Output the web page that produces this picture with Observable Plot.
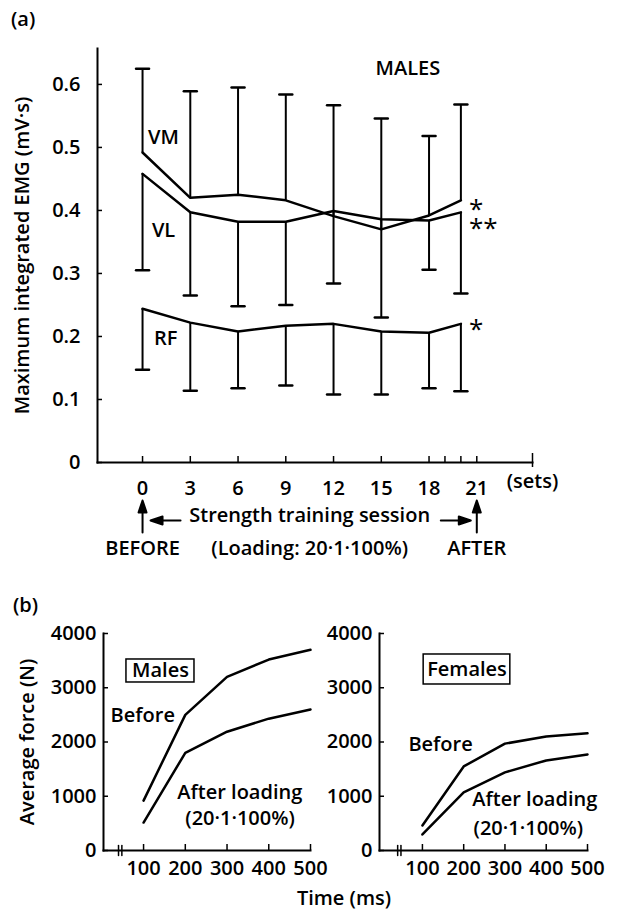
<!DOCTYPE html>
<html><head><meta charset="utf-8">
<script src="https://cdn.jsdelivr.net/npm/d3@7"></script>
<script src="https://cdn.jsdelivr.net/npm/@observablehq/plot@0.6"></script>
<style>
body{margin:0;background:#fff;}
#wrap{position:relative;width:618px;height:911px;font-family:"Open Sans",sans-serif;color:#000;background:#fff;}
#wrap svg{position:absolute;}
.lbl{position:absolute;font-size:20px;font-weight:600;line-height:20px;white-space:nowrap;}
</style></head><body><div id="wrap">
<div class="lbl" style="left:11px;top:9px;">(a)</div>
<div class="lbl" style="left:13px;top:595px;">(b)</div>
<div class="lbl" style="left:244px;width:200px;text-align:center;top:888px;">Time (ms)</div>
</div>
<script>
// ---- Panel (a): maximum integrated EMG, males ----
const sets = [0, 3, 6, 9, 12, 15, 18, 20];
const vmMean  = [0.492, 0.420, 0.425, 0.416, 0.391, 0.370, 0.392, 0.416];
const vmUpper = [0.625, 0.589, 0.595, 0.584, 0.567, 0.546, 0.518, 0.568];
const vlMean  = [0.458, 0.397, 0.382, 0.382, 0.399, 0.386, 0.384, 0.397];
const vlLower = [0.305, 0.265, 0.248, 0.250, 0.284, 0.230, 0.306, 0.268];
const rfMean  = [0.244, 0.222, 0.208, 0.217, 0.220, 0.208, 0.206, 0.220];
const rfLower = [0.147, 0.114, 0.118, 0.122, 0.108, 0.108, 0.118, 0.113];
const setTicks = [0, 3, 6, 9, 12, 15, 18, 21];
const setMinorTicks = [19, 20];
const emgTicks = [0, 0.1, 0.2, 0.3, 0.4, 0.5, 0.6];

// ---- Panel (b): average force ----
const timeMs = [100, 200, 300, 400, 500];
const maleBefore   = [920, 2500, 3200, 3520, 3700];
const maleAfter    = [515, 1800, 2190, 2430, 2600];
const femaleBefore = [460, 1550, 1970, 2100, 2160];
const femaleAfter  = [295, 1070, 1440, 1660, 1770];
const forceTicks = [0, 1000, 2000, 3000, 4000];
const axisBreak = [40, 48];

const FONT = 'font-family:"Open Sans",sans-serif;font-size:20px;font-weight:600;color:#000;background:transparent;overflow:visible;';
const cap = {draw(c, l) { c.moveTo(0, 0); c.lineTo(0, -l); }};
const arrowHead = {draw(c, l) { c.moveTo(0, 0); c.lineTo(0, -l + 8); c.moveTo(0, -l); c.lineTo(-4, -l + 12); c.lineTo(4, -l + 12); c.closePath(); }};

const emg = sets.map((s, i) => ({set: s, vm: vmMean[i], vmUp: vmUpper[i], vl: vlMean[i], vlLo: vlLower[i], rf: rfMean[i], rfLo: rfLower[i]}));
const last = [emg[emg.length - 1]];

const plotA = Plot.plot({
  width: 618, height: 575,
  marginLeft: 97, marginRight: 86, marginTop: 48, marginBottom: 113,
  x: {domain: [-2.83, 24.5]},
  y: {domain: [0, 0.657]},
  style: FONT,
  marks: [
    Plot.frame({anchor: "left", strokeWidth: 2}),
    Plot.frame({anchor: "bottom", strokeWidth: 2}),
    Plot.axisY(emgTicks, {tickSize: -5, tickPadding: 22, tickFormat: d => d === 0 ? "0" : d.toFixed(1), label: null, strokeWidth: 1.5}),
    Plot.axisX(setTicks, {tickSize: -6, tickPadding: 24, label: null, strokeWidth: 1.5}),
    Plot.axisX(setMinorTicks, {tickSize: -6, tickFormat: () => "", label: null, strokeWidth: 1.5}),
    Plot.axisX([24.5], {tickSize: -9, tickFormat: () => "", label: null, strokeWidth: 1.5}),
    Plot.axisX([24.5], {tickSize: 5, tickFormat: () => "", label: null, strokeWidth: 1.5}),
    Plot.text(["(sets)"], {frameAnchor: "bottom-right", dy: 25, textAnchor: "middle"}),
    Plot.text(["Maximum integrated EMG (mV·s)"], {frameAnchor: "left", textAnchor: "middle", dx: -75, rotate: -90}),
    // error bars
    Plot.ruleX(emg, {x: "set", y1: "vm", y2: "vmUp", strokeWidth: 2}),
    Plot.ruleX(emg, {x: "set", y1: "vl", y2: "vlLo", strokeWidth: 2}),
    Plot.ruleX(emg, {x: "set", y1: "rf", y2: "rfLo", strokeWidth: 2}),
    Plot.vector(emg, {x: "set", y: "vmUp", length: 13, rotate: 90, anchor: "middle", shape: cap, strokeWidth: 2.5}),
    Plot.vector(emg, {x: "set", y: "vlLo", length: 13, rotate: 90, anchor: "middle", shape: cap, strokeWidth: 2.5}),
    Plot.vector(emg, {x: "set", y: "rfLo", length: 13, rotate: 90, anchor: "middle", shape: cap, strokeWidth: 2.5}),
    // means
    Plot.line(emg, {x: "set", y: "vm", strokeWidth: 2.5}),
    Plot.line(emg, {x: "set", y: "vl", strokeWidth: 2.5}),
    Plot.line(emg, {x: "set", y: "rf", strokeWidth: 2.5}),
    Plot.text(last, {x: "set", y: "vm", text: () => "*", textAnchor: "start", dx: 8, dy: 9, fontSize: 26, fontWeight: 400}),
    Plot.text(last, {x: "set", y: "vl", text: () => "**", textAnchor: "start", dx: 8, dy: 16, fontSize: 26, fontWeight: 400}),
    Plot.text(last, {x: "set", y: "rf", text: () => "*", textAnchor: "start", dx: 8, dy: 6, fontSize: 26, fontWeight: 400}),
    // series labels
    Plot.text([{x: 1.32, y: 0.516, t: "VM"}, {x: 1.32, y: 0.368, t: "VL"}, {x: 1.45, y: 0.197, t: "RF"}, {x: 16.67, y: 0.625, t: "MALES"}], {x: "x", y: "y", text: "t"}),
    // session annotation below the axis
    Plot.vector([0, 21], {x: d => d, frameAnchor: "bottom", dy: 70, length: 32, anchor: "start", shape: arrowHead, fill: "black", stroke: "black", strokeWidth: 2}),
    Plot.vector([0], {x: d => d, frameAnchor: "bottom", dx: 8, dy: 58, length: 30, rotate: -90, anchor: "end", shape: arrowHead, fill: "black", stroke: "black", strokeWidth: 2}),
    Plot.vector([21], {x: d => d, frameAnchor: "bottom", dx: -6, dy: 58, length: 30, rotate: 90, anchor: "end", shape: arrowHead, fill: "black", stroke: "black", strokeWidth: 2}),
    Plot.text(["Strength training session"], {x: () => 10.5, frameAnchor: "bottom", dy: 59}),
    Plot.text([{x: 0, t: "BEFORE"}, {x: 10.5, t: "(Loading: 20·1·100%)"}, {x: 21, t: "AFTER"}], {x: "x", text: "t", frameAnchor: "bottom", dy: 92})
  ]
});
plotA.style.left = "0px"; plotA.style.top = "0px";
document.getElementById("wrap").appendChild(plotA);

function forcePanel({before, after, box, labels, left, width, marginLeft, marginRight, xmin, withYLabel}) {
  const rows = timeMs.map((t, i) => ({t, before: before[i], after: after[i]}));
  const marks = [
    Plot.frame({anchor: "left", strokeWidth: 2}),
    Plot.frame({anchor: "bottom", strokeWidth: 2}),
    Plot.axisY(forceTicks, {tickSize: -5, tickPadding: 12, tickFormat: d => String(d), label: null, strokeWidth: 1.5}),
    Plot.axisX(timeMs, {tickSize: -6, tickPadding: 16, tickFormat: d => String(d), label: null, strokeWidth: 1.5}),
    Plot.vector(axisBreak, {x: d => d, frameAnchor: "bottom", length: 10, anchor: "middle", shape: cap, strokeWidth: 1.5}),
    Plot.line(rows, {x: "t", y: "before", strokeWidth: 2.5}),
    Plot.line(rows, {x: "t", y: "after", strokeWidth: 2.5}),
    Plot.rect([box], {x1: "x1", x2: "x2", y1: "y1", y2: "y2", fill: "white", stroke: "black", strokeWidth: 1.5}),
    Plot.text([box], {x: d => (d.x1 + d.x2) / 2, y: d => (d.y1 + d.y2) / 2, text: "t"}),
    Plot.text(labels, {x: "x", y: "y", text: "t", textAnchor: "start"})
  ];
  if (withYLabel) marks.push(Plot.text(["Average force (N)"], {frameAnchor: "left", textAnchor: "middle", dx: -76, rotate: -90}));
  const p = Plot.plot({
    width, height: 321, marginLeft, marginRight, marginTop: 43, marginBottom: 61,
    x: {domain: [xmin, 500]},
    y: {domain: [0, 4000]},
    style: FONT,
    marks
  });
  p.style.left = left + "px"; p.style.top = "590px";
  document.getElementById("wrap").appendChild(p);
}

forcePanel({
  before: maleBefore, after: maleAfter,
  box: {x1: 59, x2: 222, y1: 3097, y2: 3521, t: "Males"},
  labels: [{x: 21, y: 2490, t: "Before"}, {x: 181, y: 1069, t: "After loading"}, {x: 200, y: 590, t: "(20·1·100%)"}],
  left: 0, width: 318, marginLeft: 103, marginRight: 8, xmin: 4, withYLabel: true
});
forcePanel({
  before: femaleBefore, after: femaleAfter,
  box: {x1: 103, x2: 313, y1: 3060, y2: 3613, t: "Females"},
  labels: [{x: 66, y: 1954, t: "Before"}, {x: 221, y: 940, t: "After loading"}, {x: 224, y: 405, t: "(20·1·100%)"}],
  left: 318, width: 300, marginLeft: 61, marginRight: 31, xmin: -4, withYLabel: false
});
</script>
</body></html>
